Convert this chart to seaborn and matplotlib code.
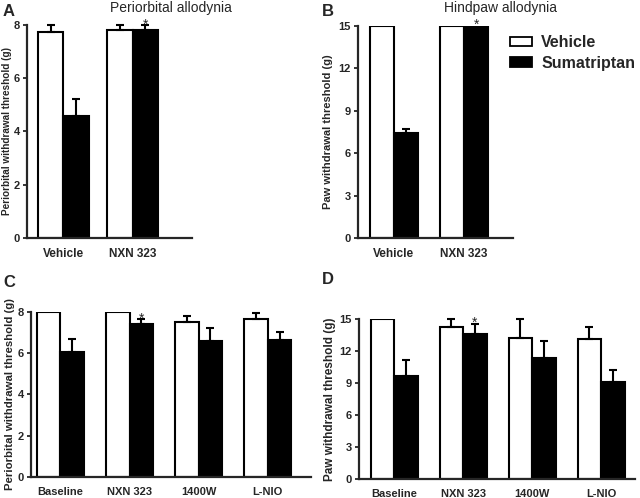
import matplotlib
matplotlib.use('Agg')
import matplotlib.pyplot as plt
import seaborn as sns
import pandas as pd
from matplotlib.patches import Patch

sns.set_style('ticks')
plt.rcParams['font.family'] = ['Liberation Sans', 'DejaVu Sans']

# panel A / B data
groups_ab = ['Vehicle', 'NXN 323']
peri_vehicle = [7.75, 7.8]
peri_vehicle_err = [0.25, 0.2]
peri_suma = [4.58, 7.8]
peri_suma_err = [0.64, 0.2]
paw_vehicle = [15, 15]
paw_vehicle_err = [0, 0]
paw_suma = [7.45, 15]
paw_suma_err = [0.25, 0]

# panel C / D data
groups_cd = ['Baseline', 'NXN 323', '1400W', 'L-NIO']
peri2_vehicle = [8, 8, 7.48, 7.66]
peri2_vehicle_err = [0, 0, 0.31, 0.30]
peri2_suma = [6.03, 7.40, 6.59, 6.62]
peri2_suma_err = [0.63, 0.23, 0.60, 0.39]
paw2_vehicle = [15, 14.28, 13.25, 13.13]
paw2_vehicle_err = [0, 0.75, 1.78, 1.15]
paw2_suma = [9.67, 13.63, 11.32, 9.07]
paw2_suma_err = [1.49, 0.93, 1.62, 1.16]

treatments = ['Vehicle', 'Sumatriptan']
star_group = 'NXN 323'


def draw_panel(ax, groups, veh, veh_err, suma, suma_err, yticks, ylabel,
               ylabel_size, width, xlim, xfont, labelpad):
    df = pd.DataFrame({
        'group': groups * 2,
        'treatment': [treatments[0]] * len(groups) + [treatments[1]] * len(groups),
        'value': veh + suma,
    })
    sns.barplot(data=df, x='group', y='value', hue='treatment', order=groups,
                hue_order=treatments, palette=['white', 'black'],
                edgecolor='black', linewidth=1.5, width=width, errorbar=None,
                legend=False, ax=ax)
    for container, errs in zip(ax.containers, [veh_err, suma_err]):
        for bar, e in zip(container, errs):
            xc = bar.get_x() + bar.get_width() / 2
            h = bar.get_height()
            if e > 0:
                ax.errorbar(xc, h, yerr=[[0], [e]], color='black', lw=1.5,
                            capsize=3.2, capthick=1.5, clip_on=False, zorder=5)
    # asterisk over the Sumatriptan bar of NXN 323
    idx = groups.index(star_group)
    bar = ax.containers[1][idx]
    top = bar.get_height() + suma_err[idx]
    ax.annotate('*', (bar.get_x() + bar.get_width() / 2, top),
                xytext=(0, -2.5), textcoords='offset points', ha='center',
                va='baseline', fontsize=10, annotation_clip=False)
    ax.set_ylim(0, yticks[-1])
    ax.set_xlim(*xlim)
    ax.set_yticks(yticks)
    ax.set_xlabel('')
    ax.set_ylabel(ylabel, fontsize=ylabel_size, fontweight='bold',
                  labelpad=labelpad)
    for lab in ax.get_yticklabels():
        lab.set_fontweight('bold')
        lab.set_fontsize(8)
    for lab in ax.get_xticklabels():
        lab.set_fontweight('bold')
        lab.set_fontsize(xfont)
    ax.tick_params(axis='x', length=0, pad=7)
    ax.tick_params(axis='y', length=3, width=1.3, pad=2)
    sns.despine(ax=ax)
    for s in ['left', 'bottom']:
        ax.spines[s].set_linewidth(1.6)


fig = plt.figure(figsize=(6.4, 4.98), dpi=100)
axA = fig.add_axes([0.042, 0.522, 0.258, 0.428])
axB = fig.add_axes([0.559, 0.5215, 0.242, 0.427])
axC = fig.add_axes([0.048, 0.042, 0.4375, 0.332])
axD = fig.add_axes([0.561, 0.0375, 0.431, 0.322])

draw_panel(axA, groups_ab, peri_vehicle, peri_vehicle_err, peri_suma,
           peri_suma_err, [0, 2, 4, 6, 8], 'Periorbital withdrawal threshold (g)',
           7.2, 0.74, (-0.53, 1.86), 8.5, 1.5)
draw_panel(axB, groups_ab, paw_vehicle, paw_vehicle_err, paw_suma,
           paw_suma_err, [0, 3, 6, 9, 12, 15], 'Paw withdrawal threshold (g)',
           8, 0.68, (-0.51, 1.69), 8.5, 4)
draw_panel(axC, groups_cd, peri2_vehicle, peri2_vehicle_err, peri2_suma,
           peri2_suma_err, [0, 2, 4, 6, 8], 'Periorbital withdrawal threshold (g)',
           8.2, 0.68, (-0.43, 3.62), 8, 2)
draw_panel(axD, groups_cd, paw2_vehicle, paw2_vehicle_err, paw2_suma,
           paw2_suma_err, [0, 3, 6, 9, 12, 15], 'Paw withdrawal threshold (g)',
           8.5, 0.68, (-0.51, 3.49), 8, 3)

fig.text(171 / 640, 1 - 8 / 498, 'Periorbital allodynia', ha='center',
         va='center', fontsize=10)
fig.text(501 / 640, 1 - 8 / 498, 'Hindpaw allodynia', ha='center',
         va='center', fontsize=10)

for letter, x, y in [('A', 3, 11), ('B', 322, 11), ('C', 3, 282), ('D', 322, 280)]:
    fig.text(x / 640, 1 - y / 498, letter, ha='left', va='center',
             fontsize=12, fontweight='bold')

handles = [Patch(facecolor='white', edgecolor='black', linewidth=1.3),
           Patch(facecolor='black', edgecolor='black', linewidth=1.3)]
fig.legend(handles, treatments, loc='upper left',
           bbox_to_anchor=(510 / 640, 1 - 35 / 498), frameon=False,
           prop={'weight': 'bold', 'size': 11.5}, handlelength=1.4,
           handleheight=0.55, handletextpad=0.55, labelspacing=0.35,
           borderaxespad=0, borderpad=0)

fig.savefig('out.png', dpi=100)
